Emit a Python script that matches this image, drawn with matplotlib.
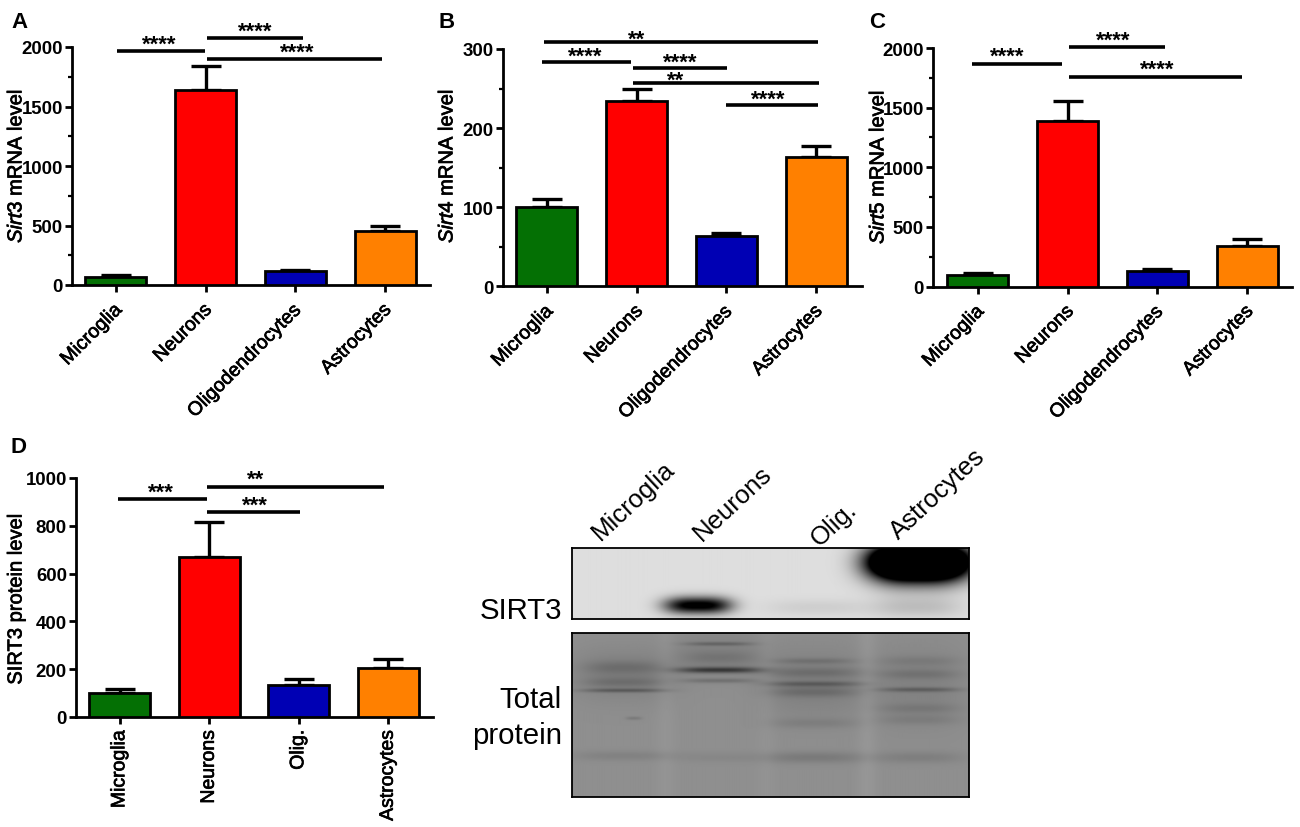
import numpy as np
import matplotlib
matplotlib.use('Agg')
import matplotlib.pyplot as plt
import matplotlib.patheffects as pe
from matplotlib.transforms import ScaledTranslation

plt.rcParams['font.family'] = ['Liberation Sans', 'DejaVu Sans']
plt.rcParams['mathtext.fontset'] = 'custom'
plt.rcParams['mathtext.it'] = 'Liberation Sans:italic'
plt.rcParams['mathtext.rm'] = 'Liberation Sans'

W, H = 1300, 828

# data
cells = ['Microglia', 'Neurons', 'Oligodendrocytes', 'Astrocytes']
cells_d = ['Microglia', 'Neurons', 'Olig.', 'Astrocytes']
colors = ['#047004', '#ff0000', '#0000b4', '#ff8000']

sirt3 = [70, 1635, 115, 455]
sirt3_top = [85, 1840, 130, 495]
sirt4 = [100, 234, 63, 163]
sirt4_top = [110, 250, 68, 177]
sirt5 = [100, 1390, 130, 340]
sirt5_top = [112, 1555, 145, 395]
protein = [100, 668, 133, 203]
protein_top = [118, 815, 160, 243]

# significance bars: x from, x to, height, stars, x of stars, stars lift in px
sig_a = [(0.01, 0.99, 1966, '****', 0.48, 1), (1.01, 2.09, 2076, '****', 1.55, 1),
         (1.01, 2.97, 1902, '****', 2.02, 1)]
sig_b = [(-0.03, 3.02, 309, '**', 1.0, -3), (-0.05, 0.94, 284, '****', 0.43, 0),
         (0.96, 2.01, 276, '****', 1.49, 0), (0.96, 3.03, 257, '**', 1.43, -3),
         (1.99, 3.02, 229, '****', 2.47, 0)]
sig_c = [(-0.06, 0.94, 1866, '****', 0.33, 2), (1.01, 2.08, 2010, '****', 1.51, 1),
         (1.01, 2.94, 1759, '****', 2.0, 2)]
sig_d = [(-0.02, 0.97, 912, '***', 0.46, 1), (0.97, 2.95, 962, '**', 1.52, 2),
         (0.97, 2.01, 858, '***', 1.51, 1)]

# blot bands: lane centre, height in panel, half width, half height, darkness
sirt3_bands = [(0.875, 0.20, 0.125, 0.25, 2.4), (0.317, 0.81, 0.085, 0.12, 0.95),
               (0.62, 0.84, 0.13, 0.11, 0.06), (0.87, 0.84, 0.11, 0.14, 0.12),
               (0.87, 0.55, 0.10, 0.2, 0.06)]
total_bands = [(0.13, 0.35, 0.105, 0.012, 0.17), (0.13, 0.21, 0.10, 0.04, 0.08),
               (0.13, 0.30, 0.10, 0.03, 0.08), (0.155, 0.52, 0.02, 0.010, 0.08),
               (0.37, 0.225, 0.105, 0.018, 0.32), (0.37, 0.065, 0.085, 0.012, 0.13),
               (0.37, 0.29, 0.09, 0.014, 0.11), (0.37, 0.15, 0.09, 0.04, 0.06),
               (0.61, 0.31, 0.12, 0.016, 0.15), (0.61, 0.17, 0.10, 0.018, 0.08),
               (0.61, 0.24, 0.12, 0.03, 0.08), (0.61, 0.36, 0.11, 0.03, 0.09),
               (0.61, 0.55, 0.11, 0.03, 0.05), (0.61, 0.76, 0.13, 0.035, 0.08),
               (0.875, 0.345, 0.10, 0.014, 0.15), (0.875, 0.25, 0.10, 0.03, 0.07),
               (0.875, 0.17, 0.10, 0.03, 0.05), (0.875, 0.46, 0.10, 0.03, 0.06),
               (0.875, 0.53, 0.10, 0.03, 0.05), (0.875, 0.76, 0.11, 0.035, 0.06),
               (0.13, 0.75, 0.13, 0.03, 0.05), (0.37, 0.76, 0.10, 0.03, 0.03),
               (0.13, 0.25, 0.13, 0.16, 0.06), (0.61, 0.30, 0.13, 0.22, 0.06),
               (0.875, 0.32, 0.12, 0.25, 0.05), (0.37, 0.12, 0.12, 0.14, 0.05)]
total_gaps = [(0.235, 0.02), (0.49, 0.015), (0.745, 0.03)]

medium = [pe.withStroke(linewidth=0.5, foreground='black')]


def ax_px(fig, left, right, bottom, top):
    return fig.add_axes([left / W, 1 - bottom / H, (right - left) / W, (bottom - top) / H])


def bar_panel(fig, box, xlim, ylim, major, minor, vals, tops, names, sig, rot):
    ax = ax_px(fig, *box)
    x = np.arange(len(vals))
    ax.bar(x, vals, 0.68, color=colors, edgecolor='black', linewidth=2, zorder=3)
    for i in x:
        ax.errorbar(i, vals[i], yerr=[[0], [tops[i] - vals[i]]], color='black', lw=2.4,
                    capsize=10.8, capthick=2.4, zorder=2)
    ax.set_xlim(*xlim)
    ax.set_ylim(*ylim)
    ax.set_yticks(major)
    ax.set_yticks(minor, minor=True)
    ax.set_xticks(x)
    if rot == 90:
        labels = ax.set_xticklabels(names, rotation=90, fontsize=14, ha='center')
        ax.tick_params(axis='x', width=2, length=5, pad=4)
    else:
        labels = ax.set_xticklabels(names, rotation=45, fontsize=14, ha='right', va='top',
                                    rotation_mode='anchor')
        ax.tick_params(axis='x', width=2, length=5, pad=6.5)
        # labels sit a little left of the ticks
        shift = ScaledTranslation(-2 / 100, 0, fig.dpi_scale_trans)
        for t in labels:
            t.set_transform(t.get_transform() + shift)
    for t in labels:
        t.set_path_effects(medium)
    ax.tick_params(axis='y', which='major', width=2, length=5, labelsize=13.4, pad=1.5)
    ax.tick_params(axis='y', which='minor', width=1.6, length=3)
    for t in ax.get_yticklabels():
        t.set_fontweight('bold')
    for s in ['top', 'right']:
        ax.spines[s].set_visible(False)
    for s in ['left', 'bottom']:
        ax.spines[s].set_linewidth(2)
    for x0, x1, y, stars, sx, lift in sig:
        ax.plot([x0, x1], [y, y], color='black', lw=2.6, clip_on=False, solid_capstyle='butt', zorder=4)
        ax.annotate(stars, (sx, y), xytext=(0, lift * 0.72), textcoords='offset points', ha='center',
                    va='baseline', fontsize=16, fontweight='bold', annotation_clip=False)
    return ax


def blot(fig, box, base, bands, gaps=()):
    ax = ax_px(fig, *box)
    nx, ny = 400, int(box[2] - box[3]) * 2
    xx, yy = np.meshgrid(np.linspace(0, 1, nx), np.linspace(0, 1, ny))
    img = np.full(xx.shape, float(base))
    for cx, d in gaps:
        img += d * np.exp(-((xx - cx) / 0.025) ** 2)
    for cx, cy, hw, hh, dark in bands:
        img -= dark * np.exp(-np.abs((xx - cx) / hw) ** 3 - ((yy - cy) / hh) ** 2)
    ax.imshow(np.clip(img, 0, 1), cmap='gray', vmin=0, vmax=1, aspect='auto',
              extent=[0, 1, 1, 0], interpolation='bilinear')
    ax.set_xticks([])
    ax.set_yticks([])
    for s in ax.spines.values():
        s.set_linewidth(1.3)
    return ax


fig = plt.figure(figsize=(W / 100, H / 100), dpi=100)

bar_panel(fig, (72, 430, 286, 48), (-0.49, 3.5), (0, 2000), [0, 500, 1000, 1500, 2000],
          [250, 750, 1250, 1750], sirt3, sirt3_top, cells, sig_a, 45)
bar_panel(fig, (503, 862, 287.3, 50), (-0.49, 3.51), (0, 300), [0, 100, 200, 300],
          [50, 150, 250], sirt4, sirt4_top, cells, sig_b, 45)
bar_panel(fig, (933, 1292, 287.5, 49), (-0.5, 3.5), (0, 2000), [0, 500, 1000, 1500, 2000],
          [250, 750, 1250, 1750], sirt5, sirt5_top, cells, sig_c, 45)
bar_panel(fig, (76, 433, 718, 479), (-0.49, 3.5), (0, 1000), [0, 200, 400, 600, 800, 1000],
          [], protein, protein_top, cells_d, sig_d, 90)

# panel letters and y labels
for letter, px, py in [('A', 11, 22), ('B', 438, 22), ('C', 869, 22), ('D', 10, 448)]:
    fig.text(px / W, 1 - py / H, letter, fontsize=16, fontweight='bold', ha='left', va='center')
for txt, px, py in [(r'$\mathit{Sirt3}$ mRNA level', 16, 167), (r'$\mathit{Sirt4}$ mRNA level', 447, 167),
                    (r'$\mathit{Sirt5}$ mRNA level', 878, 168)]:
    fig.text(px / W, 1 - py / H, txt, fontsize=14.5, rotation=90, ha='center', va='center',
             path_effects=medium)
fig.text(16 / W, 1 - 600 / H, 'SIRT3 protein level', fontsize=14.5, rotation=90,
         ha='center', va='center', path_effects=medium)

# western blot
blot(fig, (572, 969, 620, 549), 0.87, sirt3_bands)
blot(fig, (572, 969, 798, 634), 0.56, total_bands, total_gaps)
for name, px, py in [('Microglia', 604, 545), ('Neurons', 705, 546), ('Olig.', 823, 551), ('Astrocytes', 902, 544)]:
    fig.text(px / W, 1 - py / H, name, fontsize=18.5, rotation=43, ha='left', va='bottom', rotation_mode='anchor')
fig.text(562 / W, 1 - 611 / H, 'SIRT3', fontsize=21.2, ha='right', va='center')
fig.text(562 / W, 1 - 700 / H, 'Total', fontsize=21.2, ha='right', va='center')
fig.text(562 / W, 1 - 736 / H, 'protein', fontsize=21.2, ha='right', va='center')

fig.savefig('out.png', dpi=100)
